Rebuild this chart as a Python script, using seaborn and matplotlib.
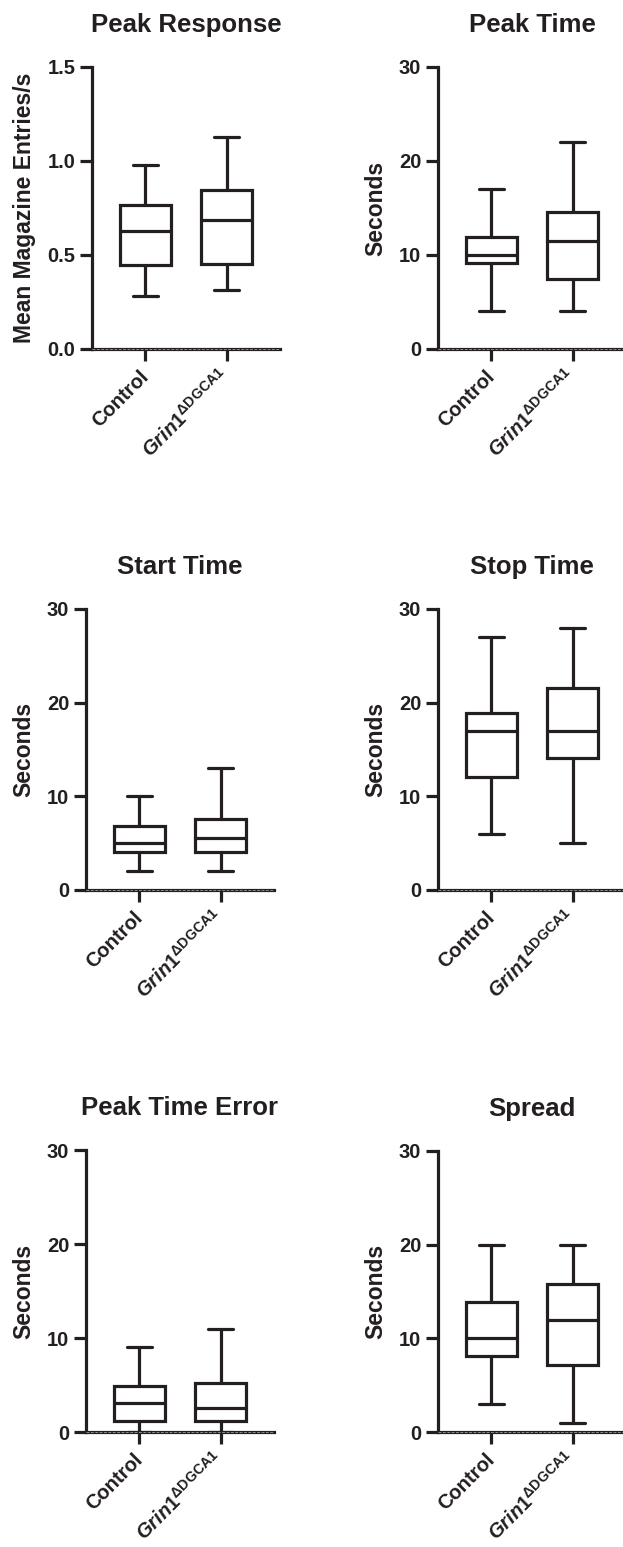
"""Six box plots of timing measures, Control vs Grin1 DGCA1."""

import matplotlib

matplotlib.use("Agg")

import matplotlib.pyplot as plt
import numpy as np
import pandas as pd
import seaborn as sns

# five-number summaries: [min, q1, median, q3, max]
groups = ["Control", "Grin1"]
peak_response_control = [0.28, 0.447, 0.628, 0.766, 0.98]
peak_response_grin = [0.314, 0.452, 0.686, 0.846, 1.128]
peak_time_control = [4.0, 9.15, 10.0, 11.9, 17.0]
peak_time_grin = [4.0, 7.45, 11.5, 14.6, 22.0]
start_time_control = [2.0, 4.06, 5.0, 6.85, 10.0]
start_time_grin = [2.0, 4.06, 5.55, 7.6, 13.0]
stop_time_control = [6.0, 12.1, 17.0, 18.9, 27.0]
stop_time_grin = [5.0, 14.1, 17.0, 21.6, 28.0]
peak_error_control = [0.0, 1.17, 3.05, 4.85, 9.0]
peak_error_grin = [0.0, 1.17, 2.55, 5.25, 11.0]
spread_control = [3.0, 8.1, 10.0, 13.9, 20.0]
spread_grin = [1.0, 7.15, 12.0, 15.85, 20.0]

titles = ["Peak Response", "Peak Time", "Start Time", "Stop Time",
          "Peak Time Error", "Spread"]
ylabels = ["Mean Magazine Entries/s"] + ["Seconds"] * 5
yticks_response = [0.0, 0.5, 1.0, 1.5]
yticks_seconds = [0, 10, 20, 30]
xtick_labels = ["Control", r"$\mathit{Grin1}^{\mathrm{\Delta DGCA1}}$"]

panels = [
    (peak_response_control, peak_response_grin),
    (peak_time_control, peak_time_grin),
    (start_time_control, start_time_grin),
    (stop_time_control, stop_time_grin),
    (peak_error_control, peak_error_grin),
    (spread_control, spread_grin),
]

# axes boxes in pixels: left, top, right, bottom
boxes_px = [
    (92, 67, 280, 349), (438, 67, 626, 349),
    (86, 609, 274, 890), (438, 609, 626, 890),
    (86, 1150, 274, 1432), (438, 1151, 626, 1432),
]

INK = "#231f20"
W, H = 623, 1547

sns.set_theme(style="ticks")
plt.rcParams["font.family"] = ["Liberation Sans", "DejaVu Sans"]
plt.rcParams["font.weight"] = "bold"
plt.rcParams["axes.labelweight"] = "bold"
plt.rcParams["axes.titleweight"] = "bold"
plt.rcParams["mathtext.fontset"] = "custom"
plt.rcParams["mathtext.rm"] = "Liberation Sans:bold"
plt.rcParams["mathtext.it"] = "Liberation Sans:italic:bold"
plt.rcParams["mathtext.bf"] = "Liberation Sans:bold"

fig = plt.figure(figsize=(W / 100, H / 100), dpi=100)

for i, ((ctrl, grin), (l, t, r, b)) in enumerate(zip(panels, boxes_px)):
    ax = fig.add_axes([l / W, 1 - b / H, (r - l) / W, (b - t) / H])
    frame = pd.DataFrame({
        "group": [groups[0]] * len(ctrl) + [groups[1]] * len(grin),
        "value": list(ctrl) + list(grin),
    })
    sns.boxplot(
        frame, x="group", y="value", order=groups, whis=np.inf,
        width=0.63, color="white", linecolor=INK, linewidth=2.3, ax=ax,
    )
    ax.axhline(0, color="#8a8a8a", lw=0.7, ls=(0, (3, 1.5)), zorder=5,
               clip_on=False)

    ticks = yticks_response if i == 0 else yticks_seconds
    ax.set_ylim(ticks[0], ticks[-1])
    ax.set_yticks(ticks)
    if i == 0:
        ax.set_yticklabels([f"{v:.1f}" for v in ticks])
    ax.set_xlim(-0.66, 1.66)
    ax.set_xticks([0, 1])
    ax.set_xticklabels(xtick_labels, rotation=45, ha="right", va="center",
                       rotation_mode="anchor")

    ax.set_title(titles[i], fontsize=18.5, pad=25, color=INK)
    ax.set_xlabel("")
    ax.set_ylabel(ylabels[i], fontsize=16.5, labelpad=8, color=INK)

    sns.despine(ax=ax)
    for side in ("left", "bottom"):
        ax.spines[side].set_linewidth(2.3)
        ax.spines[side].set_color(INK)
    ax.tick_params(axis="both", width=2.3, length=8.5, color=INK,
                   labelsize=14.5, labelcolor=INK, pad=3.5)
    ax.tick_params(axis="x", pad=9)

fig.savefig("out.png", dpi=100)
